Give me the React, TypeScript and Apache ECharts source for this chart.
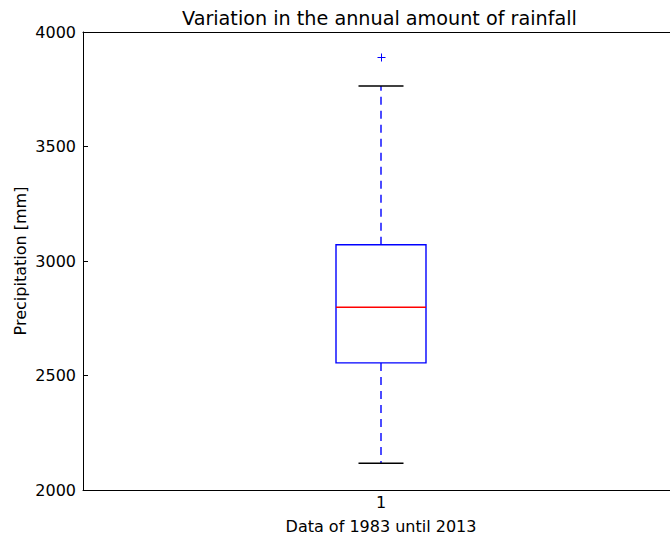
import React, { useEffect, useRef } from "react";
import * as echarts from "echarts";

const categories = ["1"];
const whiskerLow = [2117];
const q1Values = [2555];
const medianValues = [2798];
const q3Values = [3071];
const whiskerHigh = [3764];
const outlierValues = [3890];
const yTicks = { min: 2000, max: 4000, interval: 500 };

const FONT = "DejaVu Sans";
const BLUE = "#0000ff";
const RED = "#ff0000";
const BLACK = "#000000";
const LW = 1.4;

const BOX_FRAC = 0.151;

export default function App() {
  const ref = useRef<HTMLDivElement>(null);
  useEffect(() => {
    if (!ref.current) return;
    const chart = echarts.init(ref.current, undefined, { renderer: "svg" });
    const boxData = categories.map((_, i) => [
      i,
      whiskerLow[i],
      q1Values[i],
      medianValues[i],
      q3Values[i],
      whiskerHigh[i],
    ]);
    const outlierData = outlierValues.map((v) => [0, v]);

    const geom = (api: any) => {
      const x = api.value(0);
      const lo = api.coord([x, api.value(1)]);
      const q1 = api.coord([x, api.value(2)]);
      const med = api.coord([x, api.value(3)]);
      const q3 = api.coord([x, api.value(4)]);
      const hi = api.coord([x, api.value(5)]);
      const band = api.size([1, 0])[0];
      const bw = band * BOX_FRAC;
      const cw = bw / 2;
      const cx = q1[0];
      const left = cx - bw / 2;
      return { lo, q1, med, q3, hi, bw, cw, cx, left };
    };

    const seg = (x1: number, y1: number, x2: number, y2: number, color: string, dash?: number[], lw?: number) => ({
      type: "line",
      shape: { x1, y1, x2, y2 },
      style: { stroke: color, fill: null, lineWidth: lw || LW, lineDash: dash || null },
    });

    const common = {
      type: "custom",
      xAxisIndex: 0,
      silent: true,
      data: boxData,
      encode: { x: 0, y: [1, 2, 3, 4, 5] },
    };

    chart.setOption({
      animation: false,
      textStyle: { fontFamily: FONT },
      title: {
        text: "Variation in the annual amount of rainfall",
        left: 182,
        top: 9,
        padding: 0,
        textStyle: { fontFamily: FONT, fontSize: 19.2, fontWeight: "normal", color: "#000" },
      },
      grid: { left: 83, right: -9, top: 32, bottom: 48, containLabel: false, outerBoundsMode: "none" },
      xAxis: [
        {
          type: "category",
          data: categories,
          position: "bottom",
          boundaryGap: true,
          axisLine: { lineStyle: { color: "#000", width: 1 } },
          axisTick: { inside: true, length: 5, alignWithLabel: true, lineStyle: { color: "#000" } },
          axisLabel: { fontFamily: FONT, fontSize: 16, color: "#000", margin: 4 },
          splitLine: { show: false },
          name: "Data of 1983 until 2013",
          nameLocation: "middle",
          nameGap: 28,
          nameMoveOverlap: false,
          nameTextStyle: { fontFamily: FONT, fontSize: 16, color: "#000" },
        },
        {
          type: "category",
          data: categories,
          position: "top",
          boundaryGap: true,
          axisLine: { lineStyle: { color: "#000", width: 1 } },
          axisTick: { inside: true, length: 5, alignWithLabel: true, lineStyle: { color: "#000" } },
          axisLabel: { show: false },
          splitLine: { show: false },
        },
      ],
      yAxis: {
        type: "value",
        min: yTicks.min,
        max: yTicks.max,
        interval: yTicks.interval,
        axisLine: { show: true, lineStyle: { color: "#000", width: 1 } },
        axisTick: { show: true, inside: true, length: 5, lineStyle: { color: "#000" } },
        axisLabel: {
          fontFamily: FONT,
          fontSize: 16,
          color: "#000",
          margin: 7,
          formatter: (v: number) => String(v),
        },
        splitLine: { show: false },
        name: "Precipitation [mm]",
        nameLocation: "middle",
        nameGap: 55,
        nameMoveOverlap: false,
        nameTextStyle: { fontFamily: FONT, fontSize: 16, color: "#000" },
      },
      series: [
        {
          ...common,
          name: "box",
          itemStyle: { color: BLUE },
          renderItem: (params: any, api: any) => {
            const g = geom(api);
            return {
              type: "group",
              children: [
                seg(g.cx, g.q1[1], g.cx, g.lo[1], BLUE, [8, 6]),
                seg(g.cx, g.q3[1], g.cx, g.hi[1], BLUE, [8, 6]),
                {
                  type: "rect",
                  shape: { x: g.left, y: g.q3[1], width: g.bw, height: g.q1[1] - g.q3[1] },
                  style: { fill: "#ffffff", stroke: BLUE, lineWidth: LW },
                },
                seg(g.cx - g.cw / 2, g.lo[1], g.cx + g.cw / 2, g.lo[1], BLACK),
                seg(g.cx - g.cw / 2, g.hi[1], g.cx + g.cw / 2, g.hi[1], BLACK),
                seg(g.left, g.med[1], g.left + g.bw, g.med[1], RED),
              ],
            };
          },
        },
        {
          type: "custom",
          name: "outliers",
          xAxisIndex: 0,
          silent: true,
          itemStyle: { color: BLUE },
          data: outlierData,
          encode: { x: 0, y: 1 },
          renderItem: (params: any, api: any) => {
            const p = api.coord([api.value(0), api.value(1)]);
            const h = 4;
            const cx = Math.round(p[0]) + 0.5;
            const cy = Math.round(p[1]) + 0.5;
            return {
              type: "group",
              children: [
                seg(cx - h, cy, cx + h, cy, BLUE, undefined, 1),
                seg(cx, cy - h, cx, cy + h, BLUE, undefined, 1),
              ],
            };
          },
        },
      ],
    });
    return () => chart.dispose();
  }, []);
  return (
    <div
      ref={ref}
      style={{ position: "fixed", left: 0, top: 0, width: 670, height: 538, background: "#fff" }}
    />
  );
}
